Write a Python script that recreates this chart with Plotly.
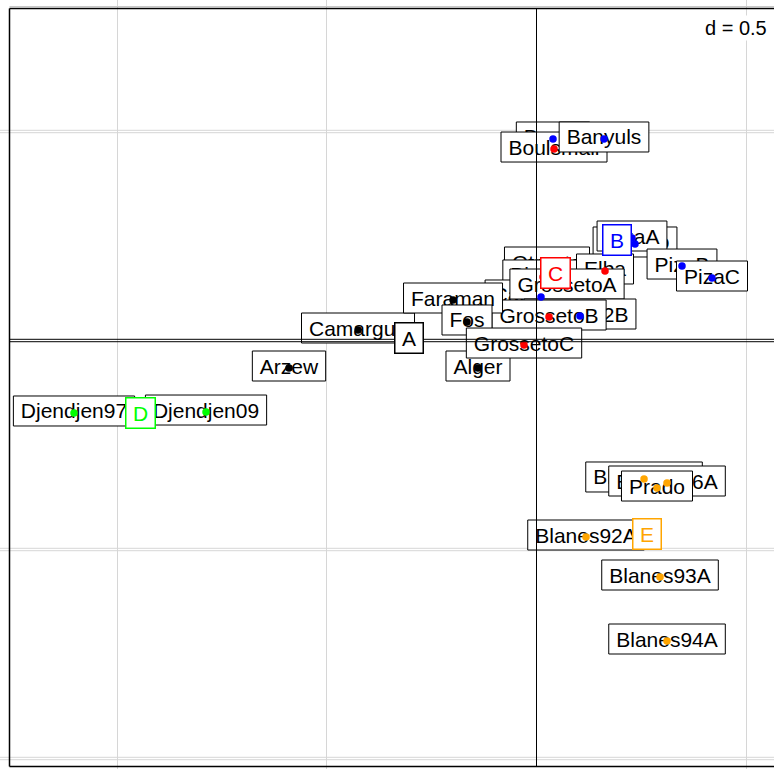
import plotly.graph_objects as go

FONT = "Liberation Sans, Arial, sans-serif"
LABEL_SIZE = 21

# Sites in drawing order, their group and their scores on axes 1 and 2
sites = ["Bastia", "Boulsmail", "Banyuls", "Livorno", "PizaA", "PizaB", "PizaC",
         "Otranto", "Bizerte", "Elba", "Cagliari2A", "GrossetoA", "Cagliari2B",
         "GrossetoB", "Camargue", "Faraman", "Fos", "Alger", "GrossetoC", "Arzew",
         "Djendjen97", "Djendjen09", "Blanes92A", "Blanes93A", "Blanes94A",
         "Blanes95A", "Blanes96A", "Prado"]
site_group = ["B", "C", "B", "B", "B", "B", "B",
              "C", "C", "C", "B", "C", "B",
              "C", "A", "A", "A", "A", "C", "A",
              "D", "D", "E", "E", "E",
              "E", "E", "E"]
axis1 = [0.0393, 0.0417, 0.1609, 0.2348, 0.2276, 0.3468, 0.4183,
         0.0250, 0.0155, 0.1633, 0.0107, 0.0727, 0.1037,
         0.0298, -0.4255, -0.1990, -0.1657, -0.1395, -0.0298, -0.5900,
         -1.1025, -0.7878, 0.1180, 0.2944, 0.3111,
         0.2563, 0.3111, 0.2872]
axis2 = [0.4821, 0.4581, 0.4821, 0.2309, 0.2452, 0.1782, 0.1495,
         0.1830, 0.1520, 0.1663, 0.1041, 0.1304, 0.0586,
         0.0562, 0.0251, 0.0969, 0.0443, -0.0658, -0.0108, -0.0658,
         -0.1734, -0.1711, -0.4701, -0.5658, -0.7189,
         -0.3313, -0.3409, -0.3529]

groups = ["A", "B", "C", "D", "E"]
group_colors = ["#000000", "#0000FF", "#FF0000", "#00FF00", "#FFA500"]

grid_values = [-1.0, -0.5, 0.0, 0.5]
grid_step_label = "d = 0.5"

# Window of the factorial map (data units)
X_RANGE = [-1.2789, 0.5661]
Y_RANGE = [-1.0251, 0.8146]

W, H = 774, 769
SX = W / (X_RANGE[1] - X_RANGE[0])   # pixels per data unit, horizontal
SY = H / (Y_RANGE[1] - Y_RANGE[0])   # pixels per data unit, vertical

# Arial / Liberation Sans advance widths (1/1000 em), used to size label boxes
ADV = {"A": 667, "B": 667, "C": 722, "D": 722, "E": 667, "F": 611, "G": 778,
       "L": 556, "O": 778, "P": 667, "S": 667,
       "a": 556, "b": 556, "c": 500, "d": 556, "e": 556, "g": 556, "i": 222,
       "j": 222, "l": 222, "m": 833, "n": 556, "o": 556, "r": 333, "s": 500,
       "t": 278, "u": 556, "v": 500, "w": 722, "y": 500, "z": 500,
       " ": 278, "=": 584, ".": 278}


def text_px(s, size):
    return sum(ADV.get(ch, 556) for ch in s) * size / 1000.0


def px_x(p):
    return X_RANGE[0] + p / SX


def px_y(p):
    return Y_RANGE[1] - p / SY


fig = go.Figure()
shapes = []

# light double horizontal grid lines
dy = 1.2 / SY
for g in grid_values:
    if g == 0.0:
        continue
    for off in (dy, -dy):
        shapes.append(dict(type="line", layer="below", xref="x", yref="y",
                           x0=X_RANGE[0], x1=X_RANGE[1], y0=g + off, y1=g + off,
                           line=dict(color="#d6d6d6", width=1)))

# boxed site labels, each centred on its point (box sits 2 px higher)
BOX_H = 30.0
BOX_LIFT = 2.0 / SY
TEXT_LIFT = 4.0 / SY
for name, x, y in zip(sites, axis1, axis2):
    hw = (text_px(name, LABEL_SIZE) + 15) / 2 / SX
    hh = BOX_H / 2 / SY
    shapes.append(dict(type="rect", layer="between", xref="x", yref="y",
                       x0=x - hw, x1=x + hw,
                       y0=y - hh + BOX_LIFT, y1=y + hh + BOX_LIFT,
                       line=dict(color="black", width=1), fillcolor="white"))
    shapes.append(dict(type="rect", layer="between", xref="x", yref="y",
                       x0=x - hw, x1=x + hw,
                       y0=y - hh + TEXT_LIFT, y1=y + hh + TEXT_LIFT,
                       line=dict(width=0), fillcolor="rgba(0,0,0,0)",
                       label=dict(text=name, textposition="middle center",
                                  padding=0,
                                  font=dict(size=LABEL_SIZE, color="black",
                                            family=FONT))))

# origin lines
shapes.append(dict(type="line", layer="above", xref="x", yref="y",
                   x0=0, x1=0, y0=px_y(8.5), y1=px_y(766.5),
                   line=dict(color="black", width=1)))
for off in (dy, -dy):
    shapes.append(dict(type="line", layer="above", xref="x", yref="y",
                       x0=px_x(9.5), x1=X_RANGE[1], y0=off, y1=off,
                       line=dict(color="black", width=1)))

# frame
shapes.append(dict(type="line", layer="above", xref="paper", yref="paper",
                   x0=9.5 / W, x1=1, y0=1 - 6.5 / H, y1=1 - 6.5 / H,
                   line=dict(color="#c8c8c8", width=1)))
for yy in (8.5, 766.5):
    shapes.append(dict(type="line", layer="above", xref="paper", yref="paper",
                       x0=9.5 / W, x1=1, y0=1 - yy / H, y1=1 - yy / H,
                       line=dict(color="black", width=1.5)))
shapes.append(dict(type="line", layer="above", xref="paper", yref="paper",
                   x0=9.5 / W, x1=9.5 / W, y0=1 - 8.5 / H, y1=1 - 766.5 / H,
                   line=dict(color="black", width=1.5)))

# points, one trace per group
for g, col in zip(groups, group_colors):
    xs = [x for x, gg in zip(axis1, site_group) if gg == g]
    ys = [y for y, gg in zip(axis2, site_group) if gg == g]
    fig.add_trace(go.Scatter(x=xs, y=ys, mode="markers", name=g,
                             marker=dict(size=7.5, color=col, line=dict(width=0)),
                             hoverinfo="skip", showlegend=False))

# group labels at the group centroids
annotations = []
for g, col in zip(groups, group_colors):
    xs = [x for x, gg in zip(axis1, site_group) if gg == g]
    ys = [y for y, gg in zip(axis2, site_group) if gg == g]
    cx, cy = sum(xs) / len(xs), sum(ys) / len(ys)
    w = text_px(g, LABEL_SIZE) + 13
    annotations.append(dict(x=cx, y=cy, xref="x", yref="y", text=g,
                            showarrow=False, xanchor="center", yanchor="middle",
                            width=w, height=29, align="center", valign="middle",
                            bgcolor="white", bordercolor=col, borderwidth=1.5,
                            borderpad=0,
                            font=dict(size=LABEL_SIZE, color=col, family=FONT)))

annotations.append(dict(x=769 / W, y=1 - 28 / H, xref="paper", yref="paper",
                        text=grid_step_label, showarrow=False,
                        xanchor="right", yanchor="middle", bgcolor="white",
                        borderpad=1,
                        font=dict(size=20, color="black", family=FONT)))

fig.update_layout(
    width=W, height=H, autosize=False,
    margin=dict(l=0, r=0, t=0, b=0),
    paper_bgcolor="white", plot_bgcolor="white",
    shapes=shapes, annotations=annotations,
    xaxis=dict(range=X_RANGE, tickvals=[v for v in grid_values if v != 0],
               showgrid=True, gridcolor="#d6d6d6", gridwidth=1,
               zeroline=False, showticklabels=False, ticks="", showline=False,
               fixedrange=True),
    yaxis=dict(range=Y_RANGE, showgrid=False, zeroline=False,
               showticklabels=False, ticks="", showline=False, fixedrange=True),
)

fig.write_html("out.html", config={"displayModeBar": False})
